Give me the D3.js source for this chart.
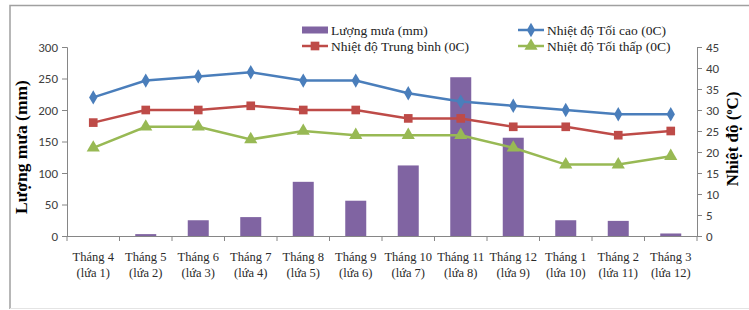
<!DOCTYPE html>
<html>
<head>
<meta charset="utf-8">
<script src="https://cdn.jsdelivr.net/npm/d3@7"></script>
<style>
  body { margin: 0; background: #fff; }
  svg { display: block; }
</style>
</head>
<body>
<svg id="chart" width="749" height="310"></svg>
<script>
// du lieu doc tu bieu do
const months = ["Tháng 4", "Tháng 5", "Tháng 6", "Tháng 7", "Tháng 8", "Tháng 9",
                "Tháng 10", "Tháng 11", "Tháng 12", "Tháng 1", "Tháng 2", "Tháng 3"];
const crops = ["(lứa 1)", "(lứa 2)", "(lứa 3)", "(lứa 4)", "(lứa 5)", "(lứa 6)",
               "(lứa 7)", "(lứa 8)", "(lứa 9)", "(lứa 10)", "(lứa 11)", "(lứa 12)"];
const rain = [0, 3, 25, 30, 86, 56, 112, 252, 156, 25, 24, 4];
const tMax = [33, 37, 38, 39, 37, 37, 34, 32, 31, 30, 29, 29];
const tAvg = [27, 30, 30, 31, 30, 30, 28, 28, 26, 26, 24, 25];
const tMin = [21, 26, 26, 23, 25, 24, 24, 24, 21, 17, 17, 19];
const rainTicks = [0, 50, 100, 150, 200, 250, 300];
const tempTicks = [0, 5, 10, 15, 20, 25, 30, 35, 40, 45];

const svg = d3.select("#chart");
const plotLeft = 67, plotRight = 697, plotTop = 47, plotBottom = 236;

// khung ngoai
svg.append("path")
   .attr("d", "M10,309 L10,5.5 L749,5.5")
   .attr("fill", "none").attr("stroke", "#a0a0a0").attr("stroke-width", 1.5);
svg.append("line")
   .attr("x1", 10).attr("x2", 749).attr("y1", 308.5).attr("y2", 308.5)
   .attr("stroke", "#e4e4e4");

const x = d3.scaleBand().domain(d3.range(months.length)).range([plotLeft, plotRight]);
const yRain = d3.scaleLinear().domain([0, 300]).range([plotBottom, plotTop]);
const yTemp = d3.scaleLinear().domain([0, 45]).range([plotBottom, plotTop]);

const axisColor = "#868686";

// cot luong mua
svg.selectAll("rect.bar")
   .data(rain)
   .enter()
   .append("rect")
   .attr("class", "bar")
   .attr("x", (d, i) => x(i) + x.bandwidth() / 2 - 10.5)
   .attr("y", d => yRain(d))
   .attr("width", 21)
   .attr("height", d => plotBottom - yRain(d))
   .attr("fill", "#8064a2");

// truc trai
const gL = svg.append("g").attr("transform", `translate(${plotLeft},0)`)
   .call(d3.axisLeft(yRain).tickValues(rainTicks).tickSize(5).tickPadding(4));
// truc phai
const gR = svg.append("g").attr("transform", `translate(${plotRight},0)`)
   .call(d3.axisRight(yTemp).tickValues(tempTicks).tickSize(5).tickPadding(4));
[gL, gR].forEach(g => {
  g.select(".domain").attr("stroke", axisColor);
  g.selectAll(".tick line").attr("stroke", axisColor);
  g.selectAll(".tick text")
   .attr("fill", "#404040")
   .attr("font-family", "Carlito, 'Open Sans', 'DejaVu Sans', sans-serif")
   .attr("font-size", "13px");
});

// truc hoanh
svg.append("line")
   .attr("x1", plotLeft).attr("x2", plotRight).attr("y1", plotBottom + 0.5).attr("y2", plotBottom + 0.5)
   .attr("stroke", axisColor);
svg.selectAll("line.xtick")
   .data(d3.range(months.length + 1))
   .enter()
   .append("line")
   .attr("class", "xtick")
   .attr("x1", i => plotLeft + i * x.step()).attr("x2", i => plotLeft + i * x.step())
   .attr("y1", plotBottom).attr("y2", plotBottom + 5)
   .attr("stroke", axisColor);

const xl = svg.selectAll("text.xlab")
   .data(months)
   .enter()
   .append("text")
   .attr("class", "xlab")
   .attr("x", (d, i) => x(i) + x.bandwidth() / 2)
   .attr("y", 261)
   .attr("text-anchor", "middle")
   .attr("font-family", "'Liberation Serif', 'Times New Roman', serif")
   .attr("font-size", "12.5px")
   .attr("fill", "#2a2a2a");
xl.append("tspan").text(d => d);
xl.append("tspan")
   .attr("x", (d, i) => x(i) + x.bandwidth() / 2)
   .attr("dy", 16)
   .text((d, i) => crops[i]);

// duong nhiet do
const series = [
  { name: "Nhiệt độ Tối cao (0C)", data: tMax, color: "#4a7ebb", shape: d3.symbolDiamond, size: 60 },
  { name: "Nhiệt độ Trung bình (0C)", data: tAvg, color: "#be4b48", shape: d3.symbolSquare, size: 75 },
  { name: "Nhiệt độ Tối thấp (0C)", data: tMin, color: "#98b954", shape: d3.symbolTriangle, size: 75 }
];
const line = d3.line()
   .x((d, i) => x(i) + x.bandwidth() / 2)
   .y(d => yTemp(d));

series.forEach(s => {
  svg.append("path")
     .datum(s.data)
     .attr("d", line)
     .attr("fill", "none")
     .attr("stroke", s.color)
     .attr("stroke-width", 2.5);
  svg.selectAll(null)
     .data(s.data)
     .enter()
     .append("path")
     .attr("transform", (d, i) => `translate(${x(i) + x.bandwidth() / 2},${yTemp(d)})`)
     .attr("d", d3.symbol().type(s.shape).size(s.size))
     .attr("fill", s.color);
});

// tieu de truc
svg.append("text")
   .attr("transform", "translate(27,147) rotate(-90)")
   .attr("text-anchor", "middle")
   .attr("font-family", "'Liberation Serif', 'Times New Roman', serif")
   .attr("font-weight", "bold")
   .attr("font-size", "17.5px")
   .attr("fill", "#000")
   .text("Lượng mưa (mm)");
const rt = svg.append("text")
   .attr("transform", "translate(738,139) rotate(-90)")
   .attr("text-anchor", "middle")
   .attr("font-family", "'Liberation Serif', 'Times New Roman', serif")
   .attr("font-weight", "bold")
   .attr("font-size", "17px")
   .attr("fill", "#000");
rt.append("tspan").text("Nhiệt độ (");
rt.append("tspan").attr("font-size", "10px").attr("dy", -6).text("o");
rt.append("tspan").attr("dy", 6).text("C)");

// chu giai
const legFont = "'Liberation Serif', 'Times New Roman', serif";
const legend = [
  { name: "Lượng mưa (mm)", color: "#8064a2", x: 302, y: 30, bar: true },
  { name: series[1].name, color: series[1].color, x: 302, y: 46, s: series[1] },
  { name: series[0].name, color: series[0].color, x: 518, y: 30, s: series[0] },
  { name: series[2].name, color: series[2].color, x: 518, y: 46, s: series[2] }
];
legend.forEach(l => {
  if (l.bar) {
    svg.append("rect").attr("x", l.x).attr("y", l.y - 3.5).attr("width", 26).attr("height", 7)
       .attr("fill", l.color);
  } else {
    svg.append("line").attr("x1", l.x).attr("x2", l.x + 26).attr("y1", l.y).attr("y2", l.y)
       .attr("stroke", l.color).attr("stroke-width", 2.5);
    svg.append("path").attr("transform", `translate(${l.x + 13},${l.y})`)
       .attr("d", d3.symbol().type(l.s.shape).size(l.s.size)).attr("fill", l.color);
  }
  svg.append("text")
     .attr("x", l.x + 29).attr("y", l.y + 4.5)
     .attr("font-family", legFont)
     .attr("font-size", "13.5px")
     .attr("fill", "#222")
     .text(l.name);
});
</script>
</body>
</html>
